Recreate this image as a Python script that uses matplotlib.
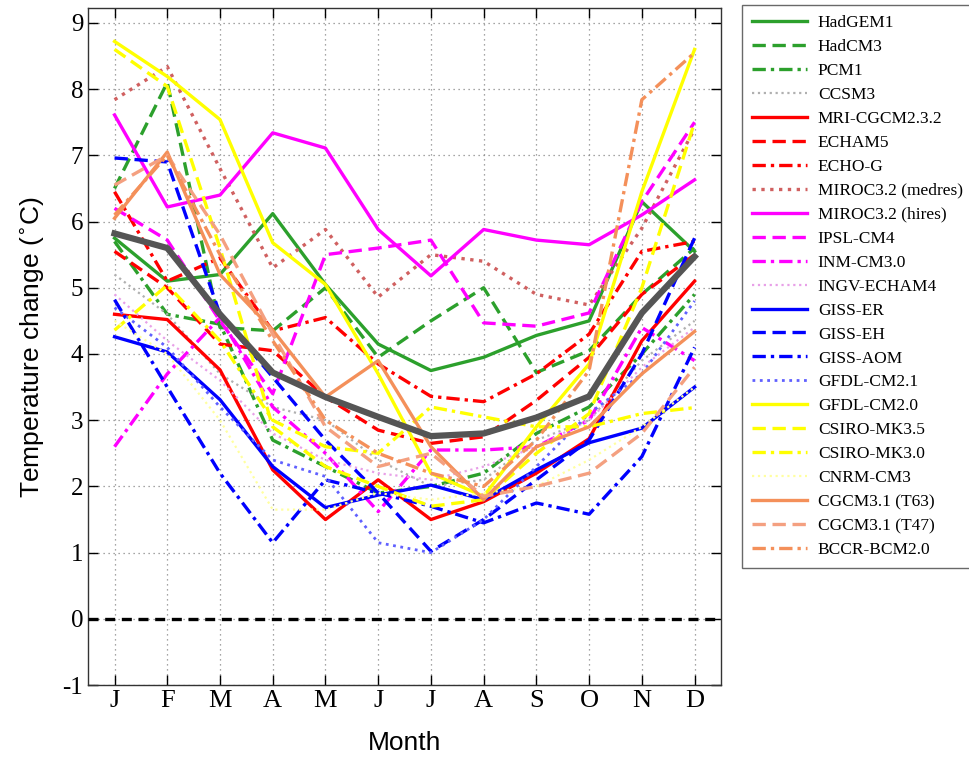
import matplotlib
matplotlib.use("Agg")
import matplotlib.pyplot as plt
import numpy as np

months = ["J", "F", "M", "A", "M", "J", "J", "A", "S", "O", "N", "D"]

models = ["HadGEM1", "HadCM3", "PCM1", "CCSM3", "MRI-CGCM2.3.2", "ECHAM5", "ECHO-G",
          "MIROC3.2 (medres)", "MIROC3.2 (hires)", "IPSL-CM4", "INM-CM3.0", "INGV-ECHAM4",
          "GISS-ER", "GISS-EH", "GISS-AOM", "GFDL-CM2.1", "GFDL-CM2.0", "CSIRO-MK3.5",
          "CSIRO-MK3.0", "CNRM-CM3", "CGCM3.1 (T63)", "CGCM3.1 (T47)", "BCCR-BCM2.0"]

hadgem1 = [5.75, 5.1, 5.2, 6.12, 5.05, 4.15, 3.75, 3.95, 4.28, 4.5, 6.3, 5.55]
hadcm3 = [6.5, 8.1, 4.4, 4.35, 5.0, 3.95, 4.5, 5.0, 3.72, 4.05, 4.9, 5.6]
pcm1 = [5.7, 4.6, 4.45, 2.7, 2.3, 1.9, 2.0, 2.2, 2.8, 3.2, 4.0, 4.9]
ccsm3 = [5.2, 4.6, 3.7, 3.2, 3.0, 2.4, 2.0, 2.1, 2.7, 3.0, 3.9, 4.5]
mri = [4.6, 4.52, 3.76, 2.25, 1.5, 2.1, 1.5, 1.77, 2.2, 2.72, 4.2, 5.1]
echam5 = [5.55, 5.0, 4.15, 4.05, 3.35, 2.85, 2.65, 2.75, 3.3, 3.95, 4.9, 5.5]
echog = [6.45, 5.1, 5.45, 4.35, 4.55, 3.85, 3.36, 3.28, 3.7, 4.3, 5.55, 5.7]
miroc_med = [7.84, 8.34, 6.8, 5.3, 5.88, 4.86, 5.5, 5.4, 4.9, 4.74, 5.9, 7.4]
miroc_hi = [7.61, 6.22, 6.4, 7.34, 7.11, 5.88, 5.18, 5.88, 5.72, 5.65, 6.1, 6.63]
ipsl = [6.2, 5.72, 4.5, 3.4, 5.5, 5.6, 5.72, 4.47, 4.42, 4.62, 6.3, 7.5]
inm = [2.6, 3.7, 4.55, 3.2, 2.5, 1.62, 2.55, 2.55, 2.6, 3.0, 4.4, 3.9]
ingv = [4.9, 4.2, 3.6, 2.8, 2.4, 2.2, 2.1, 2.3, 2.6, 3.0, 3.8, 4.4]
giss_er = [4.26, 4.03, 3.31, 2.3, 1.68, 1.87, 2.02, 1.8, 2.25, 2.66, 2.88, 3.5]
giss_eh = [6.96, 6.9, 4.6, 3.65, 2.7, 1.9, 1.02, 1.5, 2.1, 2.7, 4.0, 5.75]
giss_aom = [4.82, 3.5, 2.2, 1.15, 2.1, 1.9, 1.7, 1.45, 1.75, 1.58, 2.45, 4.1]
gfdl21 = [4.7, 4.1, 3.2, 2.4, 2.15, 1.15, 1.0, 1.5, 2.3, 3.1, 3.7, 4.8]
gfdl20 = [8.72, 8.19, 7.54, 5.68, 5.05, 3.7, 2.2, 1.85, 2.9, 3.85, 6.45, 8.6]
csiro35 = [8.6, 8.04, 5.6, 2.9, 2.3, 2.0, 1.7, 1.8, 2.5, 3.1, 5.0, 7.5]
csiro30 = [4.36, 5.04, 4.2, 3.0, 2.6, 2.5, 3.2, 3.05, 2.9, 2.9, 3.1, 3.19]
cnrm = [4.5, 4.0, 3.0, 1.65, 1.65, 1.9, 1.8, 1.9, 2.0, 2.4, 2.9, 3.5]
cgcm63 = [6.05, 7.05, 5.2, 4.36, 3.35, 3.9, 2.6, 1.8, 2.6, 2.9, 3.7, 4.34]
cgcm47 = [6.55, 7.0, 5.8, 4.3, 2.9, 2.3, 2.5, 1.85, 2.0, 2.2, 2.8, 3.8]
bccr = [6.1, 7.0, 5.5, 4.2, 3.0, 2.5, 2.2, 2.0, 2.7, 3.75, 7.84, 8.55]
ensemble_mean = [5.82, 5.6, 4.6, 3.72, 3.35, 3.05, 2.76, 2.8, 3.04, 3.36, 4.62, 5.47]

series = [hadgem1, hadcm3, pcm1, ccsm3, mri, echam5, echog, miroc_med, miroc_hi, ipsl, inm,
          ingv, giss_er, giss_eh, giss_aom, gfdl21, gfdl20, csiro35, csiro30, cnrm, cgcm63,
          cgcm47, bccr]

green = "#2ca02c"
styles = [
    (green, "-", 2.4), (green, (0, (4, 2)), 2.4), (green, (0, (4, 1.5, 1, 1.5)), 2.4), ("#b0b0b0", ":", 1.6),
    ("#ff0000", "-", 2.4), ("#ff0000", (0, (4, 2)), 2.4), ("#ff0000", (0, (4, 1.5, 1, 1.5)), 2.4), ("#d06060", ":", 2.4),
    ("#ff00ff", "-", 2.4), ("#ff00ff", (0, (4, 2)), 2.4), ("#ff00ff", (0, (4, 1.5, 1, 1.5)), 2.4), ("#e8a0e8", ":", 1.6),
    ("#0000ff", "-", 2.4), ("#0000ff", (0, (4, 2)), 2.4), ("#0000ff", (0, (4, 1.5, 1, 1.5)), 2.4), ("#6060ff", ":", 2.0),
    ("#ffff00", "-", 2.4), ("#ffff00", (0, (4, 2)), 2.4), ("#ffff00", (0, (4, 1.5, 1, 1.5)), 2.4), ("#ffffa0", ":", 1.6),
    ("#f4905a", "-", 2.4), ("#f4a080", (0, (4, 2)), 2.4), ("#f4905a", (0, (4, 1.5, 1, 1.5)), 2.4),
]

fig = plt.figure(figsize=(9.69, 7.57), dpi=100)
ax = fig.add_axes([0.091, 0.095, 0.653, 0.894])
x = np.arange(1, 13)

handles = []
for name, vals, (c, ls, lw) in zip(models, series, styles):
    h, = ax.plot(x, vals, color=c, linestyle=ls, linewidth=lw, label=name)
    handles.append(h)

ax.plot(x, ensemble_mean, color="#555555", linewidth=4.5, zorder=5)
ax.axhline(0, color="black", linestyle=(0, (3, 2)), linewidth=2.4, zorder=6)

ax.set_xlim(0.5, 12.5)
ax.set_ylim(-1, 9.22)
ax.set_xticks(x)
ax.set_xticklabels(months, family="Liberation Serif", fontsize=19)
ax.set_yticks(np.arange(-1, 10))
ax.set_yticklabels([str(v) for v in range(-1, 10)], family="Liberation Serif", fontsize=18)
ax.tick_params(direction="in", top=True, right=True, length=7, width=1)
ax.grid(True, linestyle=(0, (1, 3)), color="#888888", linewidth=0.9)
for s in ax.spines.values():
    s.set_linewidth(1.0)
    s.set_color("#333333")

ax.set_xlabel("Month", family="Liberation Sans", fontsize=19, labelpad=14)
ax.set_ylabel("Temperature change ($^{\\circ}$C)", family="Liberation Sans", fontsize=19, labelpad=12)

leg = fig.legend(handles=handles, loc="upper left", bbox_to_anchor=(0.766, 0.993),
                 prop={"family": "Liberation Serif", "size": 12.5}, frameon=True,
                 fancybox=False, handlelength=3.2, labelspacing=0.45, borderpad=0.55,
                 handletextpad=0.6, borderaxespad=0)
leg.get_frame().set_edgecolor("#444444")
leg.get_frame().set_linewidth(1.0)

fig.savefig("out.png", dpi=100)
